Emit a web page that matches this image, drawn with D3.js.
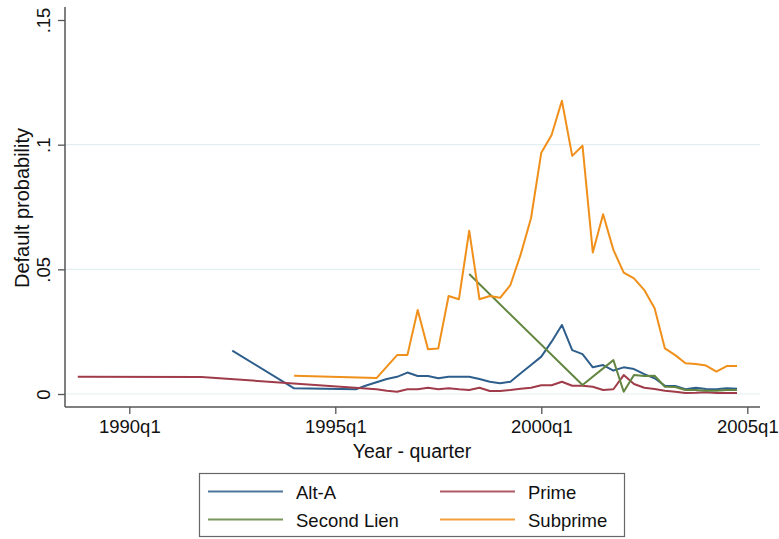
<!DOCTYPE html>
<html><head><meta charset="utf-8">
<script src="https://cdn.jsdelivr.net/npm/d3@7"></script>
<style>body{margin:0;background:#fff}svg{display:block}text{font-family:"Liberation Sans",Arial,sans-serif;fill:#111}</style>
</head><body><svg id="c" width="779" height="539"></svg>
<script>
// Series: quarters and default probabilities
const altAQuarters = ["1992q3","1994q1","1995q3","1995q4","1996q1","1996q2","1996q3","1996q4","1997q1","1997q2","1997q3","1997q4","1998q1","1998q2","1998q3","1998q4","1999q1","1999q2","1999q3","1999q4","2000q1","2000q2","2000q3","2000q4","2001q1","2001q2","2001q3","2001q4","2002q1","2002q2","2002q3","2002q4","2003q1","2003q2","2003q3","2003q4","2004q1","2004q2","2004q3","2004q4"];
const altAValues = [0.0174,0.0023,0.0019,0.0034,0.0047,0.0060,0.0069,0.0086,0.0072,0.0072,0.0063,0.0069,0.0069,0.0069,0.0060,0.0049,0.0043,0.0049,0.0083,0.0116,0.0150,0.0210,0.0277,0.0176,0.0160,0.0107,0.0116,0.0094,0.0107,0.0100,0.0080,0.0063,0.0033,0.0032,0.0019,0.0025,0.0020,0.0019,0.0023,0.0021];

const primeQuarters = ["1988q4","1991q4","1996q1","1996q2","1996q3","1996q4","1997q1","1997q2","1997q3","1997q4","1998q1","1998q2","1998q3","1998q4","1999q1","1999q2","1999q3","1999q4","2000q1","2000q2","2000q3","2000q4","2001q1","2001q2","2001q3","2001q4","2002q1","2002q2","2002q3","2002q4","2003q1","2003q2","2003q3","2003q4","2004q1","2004q2","2004q3","2004q4"];
const primeValues = [0.0069,0.0068,0.0019,0.0013,0.0009,0.0019,0.0019,0.0025,0.0019,0.0023,0.0019,0.0016,0.0025,0.0012,0.0012,0.0016,0.0021,0.0025,0.0035,0.0035,0.0049,0.0033,0.0033,0.0029,0.0016,0.0019,0.0076,0.0040,0.0025,0.0020,0.0013,0.0009,0.0004,0.0005,0.0007,0.0004,0.0004,0.0004];

const secondLienQuarters = ["1998q2","2001q1","2001q4","2002q1","2002q2","2002q3","2002q4","2003q1","2003q2","2003q3","2003q4","2004q1","2004q2","2004q3","2004q4"];
const secondLienValues = [0.0481,0.0036,0.0136,0.0009,0.0076,0.0072,0.0073,0.0029,0.0028,0.0016,0.0016,0.0013,0.0013,0.0016,0.0016];

const subprimeQuarters = ["1994q1","1996q1","1996q2","1996q3","1996q4","1997q1","1997q2","1997q3","1997q4","1998q1","1998q2","1998q3","1998q4","1999q1","1999q2","1999q3","1999q4","2000q1","2000q2","2000q3","2000q4","2001q1","2001q2","2001q3","2001q4","2002q1","2002q2","2002q3","2002q4","2003q1","2003q2","2003q3","2003q4","2004q1","2004q2","2004q3","2004q4"];
const subprimeValues = [0.0073,0.0064,0.0110,0.0156,0.0156,0.0337,0.0180,0.0183,0.0393,0.0380,0.0655,0.0380,0.0393,0.0386,0.0437,0.0560,0.0705,0.0968,0.1039,0.1176,0.0955,0.0996,0.0568,0.0721,0.0578,0.0487,0.0464,0.0417,0.0344,0.0183,0.0156,0.0123,0.0120,0.0114,0.0090,0.0112,0.0112];

const xTickLabels = ["1990q1","1995q1","2000q1","2005q1"];
const yTickValues = [0, 0.05, 0.1, 0.15];
const yTickLabels = ["0", ".05", ".1", ".15"];
const seriesNames = ["Alt-A","Prime","Second Lien","Subprime"];
const seriesColors = ["#2e5f8c","#a03c4a","#628640","#f0901a"];

// helpers
const qnum = s => { const [y,q] = s.split("q").map(Number); return (y-1960)*4 + (q-1); };
const series = [
  {name:seriesNames[0], color:seriesColors[0], q:altAQuarters, v:altAValues},
  {name:seriesNames[1], color:seriesColors[1], q:primeQuarters, v:primeValues},
  {name:seriesNames[2], color:seriesColors[2], q:secondLienQuarters, v:secondLienValues},
  {name:seriesNames[3], color:seriesColors[3], q:subprimeQuarters, v:subprimeValues}
].map(s => ({...s, pts: s.q.map((d,i)=>({x:qnum(d), y:s.v[i]}))}));

const svg = d3.select("#c");
const x = d3.scaleLinear().domain([113.757, 181.233]).range([65, 760]);
const y = d3.scaleLinear().domain([-0.00521, 0.15522]).range([407, 7]);

// gridlines
svg.append("g").selectAll("line").data(yTickValues.filter(v=>v<0.15)).join("line")
  .attr("x1",65).attr("x2",760).attr("y1",d=>y(d)).attr("y2",d=>y(d))
  .attr("stroke","#e4edf0").attr("stroke-width",1.2);

// y axis
const yAxis = d3.axisLeft(y).tickValues(yTickValues).tickSize(7).tickFormat((d,i)=>yTickLabels[i]);
const gy = svg.append("g").attr("transform","translate(65,0)").call(yAxis);
gy.select(".domain").attr("stroke","#555").attr("stroke-width",1.5).attr("d","M0,7V407");
gy.selectAll(".tick line").attr("stroke","#555").attr("stroke-width",1.3);
gy.selectAll(".tick text").attr("x",0).attr("dy",0).attr("font-size","18.5px")
  .attr("text-anchor","middle").attr("transform","translate(-15,0) rotate(-90)")
  .style("font-family","Liberation Sans, Arial, sans-serif").attr("fill","#111");

// x axis
const xAxis = d3.axisBottom(x).tickValues(xTickLabels.map(qnum)).tickSize(7).tickFormat((d,i)=>xTickLabels[i]);
const gx = svg.append("g").attr("transform","translate(0,407)").call(xAxis);
gx.select(".domain").attr("stroke","#555").attr("stroke-width",1.5).attr("d","M65,0H760");
gx.selectAll(".tick line").attr("stroke","#555").attr("stroke-width",1.3);
gx.selectAll(".tick text").attr("y",26).attr("dy",0).attr("font-size","18.5px")
  .style("font-family","Liberation Sans, Arial, sans-serif").attr("fill","#111");

// axis titles
svg.append("text").attr("x",412).attr("y",458).attr("text-anchor","middle").attr("font-size","19.5px").text("Year - quarter");
svg.append("text").attr("transform","translate(29,208) rotate(-90)").attr("text-anchor","middle").attr("font-size","20px").text("Default probability");

// lines
const line = d3.line().x(d=>x(d.x)).y(d=>y(d.y));
svg.append("g").selectAll("path").data(series).join("path")
  .attr("d",d=>line(d.pts)).attr("fill","none").attr("stroke",d=>d.color)
  .attr("stroke-width",2).attr("stroke-linejoin","round");

// legend
const lg = svg.append("g");
lg.append("rect").attr("x",199.5).attr("y",473.5).attr("width",425).attr("height",63)
  .attr("fill","#fff").attr("stroke","#666").attr("stroke-width",1.2);
const pos = [[208,491.5],[440,491.5],[208,519.5],[440,519.5]];
series.forEach((s,i)=>{
  const [lx,ly] = pos[i];
  lg.append("line").attr("x1",lx).attr("x2",lx+75).attr("y1",ly).attr("y2",ly)
    .attr("stroke",s.color).attr("stroke-width",1.8).attr("opacity",0.85);
  lg.append("text").attr("x",lx+88).attr("y",ly+7).attr("font-size","18.5px").text(s.name);
});
</script>
</body></html>
